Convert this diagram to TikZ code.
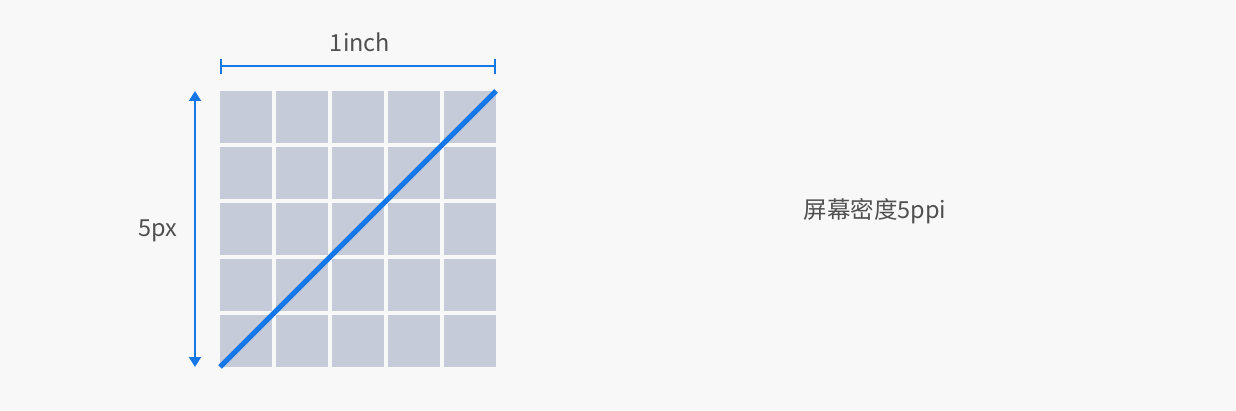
\documentclass[tikz,border=0pt]{standalone}
\usepackage{fontspec}
\setmainfont{Noto Sans CJK SC}
\usetikzlibrary{arrows.meta}
\definecolor{bgcol}{HTML}{F8F8F8}
\definecolor{cellcol}{HTML}{C5CBD9}
\definecolor{bluecol}{HTML}{1677E6}
\definecolor{textcol}{HTML}{505050}
\tikzstyle{label} = [text=textcol, font=\fontsize{23.5}{28}\selectfont, inner sep=0pt]
\tikzstyle{cell} = [fill=cellcol]
\tikzstyle{dimline} = [draw=bluecol, line width=2pt, {Bar[width=15pt]}-{Bar[width=15pt]}]
\tikzstyle{arrow} = [draw=bluecol, line width=2pt, {Triangle[width=12pt,length=10pt]}-{Triangle[width=12pt,length=10pt]}]
\tikzstyle{diag} = [draw=bluecol, line width=5pt]

\begin{document}
\begin{tikzpicture}[x=1pt, y=-1pt]
		\fill[bgcol] (0,0) rectangle (1236,411);
		\useasboundingbox (0,0) rectangle (1236,411);
		% pixel grid
		\foreach \i in {0,...,4}
			\foreach \j in {0,...,4}
				\fill [cell] (220+56*\i, 91+56*\j) rectangle +(52,52);
		\coordinate (gl) at (220,367);
		\coordinate (gr) at (496,91);
		\coordinate (dl) at (220,66.5);
		\coordinate (dr) at (496,66.5);
		\coordinate (at) at (195,91);
		\coordinate (ab) at (195,367);
		\node (inch) [label] at (360,42) {1inch};
		\node (px) [label] at (158,231) {5px};
		\node (ppi) [label] at (875,211) {屏幕密度5ppi};
		\draw [dimline] (dl) -- (dr);
		\draw [arrow] (at) -- (ab);
		\draw [diag] (gl) -- (gr);
	\end{tikzpicture}
\end{document}
